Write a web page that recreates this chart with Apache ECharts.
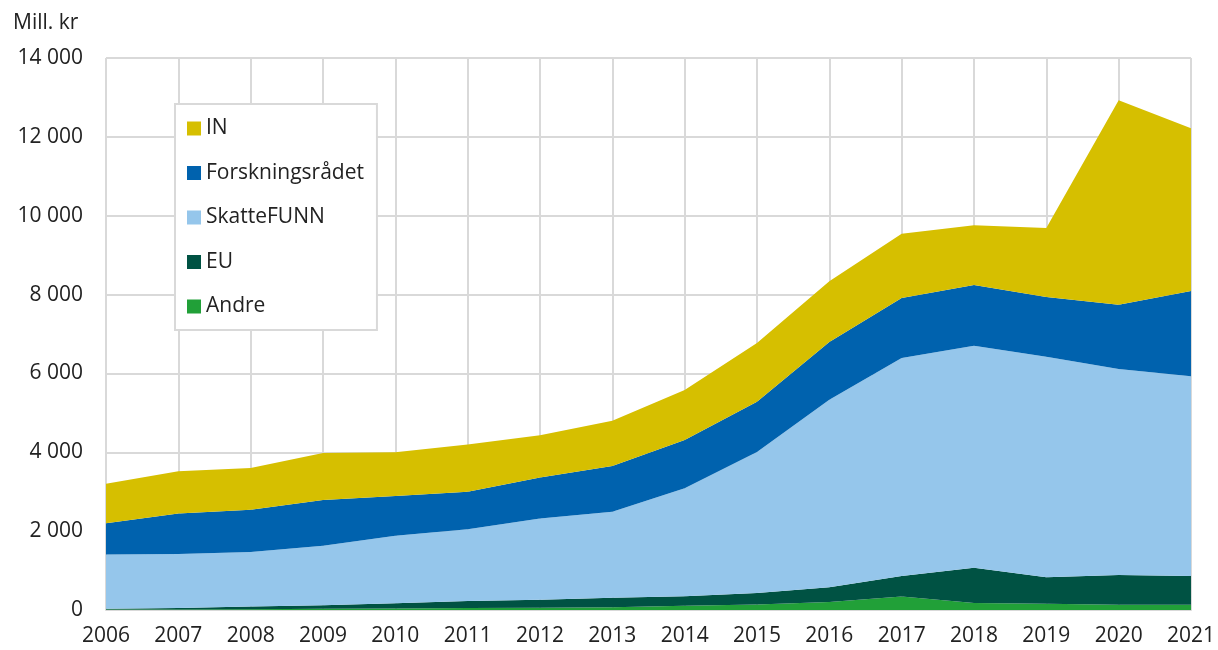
<!DOCTYPE html>
<html>
<head>
<meta charset="utf-8">
<script src="https://cdn.jsdelivr.net/npm/echarts@6/dist/echarts.min.js"></script>
<style>
    html,body{margin:0;padding:0;background:#fff;}
    #main{width:1218px;height:650px;}
</style>
</head>
<body>
<div id="main"></div>
<script>
    //årstall
    var years = ['2006','2007','2008','2009','2010','2011','2012','2013','2014','2015','2016','2017','2018','2019','2020','2021'];
    //mill. kr per kilde
    var andre = [10,10,20,30,40,50,60,70,110,140,200,340,180,160,130,130];
    var eu = [20,40,70,90,130,180,200,240,240,290,380,520,890,670,760,730];
    var skattefunn = [1380,1370,1380,1510,1710,1820,2060,2180,2740,3580,4750,5530,5630,5590,5220,5070];
    var forskningsradet = [790,1030,1070,1160,1010,950,1040,1160,1220,1270,1470,1520,1540,1520,1630,2160];
    var innovasjon = [1000,1070,1060,1190,1110,1200,1070,1150,1270,1490,1540,1630,1520,1750,5190,4130];

    var legendNames = ['IN','Forskningsrådet','SkatteFUNN','EU','Andre'];
    var colors = {IN:'#d6bf00','Forskningsrådet':'#0062ae',SkatteFUNN:'#95c6eb',EU:'#005243',Andre:'#21a038'};

    var fontFam = '"Open Sans", "Noto Sans", sans-serif';

    function fmt(v){
        return String(v).replace(/\B(?=(\d{3})+(?!\d))/g, ' ');
    }

    function areaSerie(name, data){
        return {
            name: name,
            type: 'line',
            stack: 'sum',
            data: data,
            symbol: 'none',
            lineStyle: {width: 0},
            areaStyle: {color: colors[name], opacity: 1},
            itemStyle: {color: colors[name]},
            emphasis: {disabled: true}
        };
    }

    var myChart = echarts.init(document.getElementById('main'));
    var option = {
        animation: false,
        title: {
            text: 'Mill. kr',
            left: 8,
            top: 8,
            textStyle: {fontFamily: fontFam, fontSize: 21, fontWeight: 'normal', color: '#222'}
        },
        legend: {
            data: legendNames,
            orient: 'vertical',
            left: 175,
            top: 104,
            backgroundColor: '#fff',
            borderColor: '#d9d9d9',
            borderWidth: 2,
            padding: [14, 13, 13, 12],
            itemGap: 23.5,
            itemWidth: 14,
            itemHeight: 14,
            icon: 'rect',
            textStyle: {fontFamily: fontFam, fontSize: 21, color: '#222'}
        },
        grid: {left: 106, right: 21, top: 58, bottom: 40},
        xAxis: {
            type: 'category',
            data: years,
            boundaryGap: false,
            axisLine: {lineStyle: {color: '#d9d9d9', width: 2}},
            axisTick: {show: false},
            axisLabel: {fontFamily: fontFam, fontSize: 21, color: '#222', margin: 16, interval: 0},
            splitLine: {show: true, lineStyle: {color: '#d9d9d9', width: 2}}
        },
        yAxis: {
            type: 'value',
            min: 0,
            max: 14000,
            interval: 2000,
            axisLine: {show: false},
            axisTick: {show: false},
            axisLabel: {fontFamily: fontFam, fontSize: 21, color: '#222', margin: 23, formatter: fmt},
            splitLine: {lineStyle: {color: '#d9d9d9', width: 2}}
        },
        series: [
            areaSerie('Andre', andre),
            areaSerie('EU', eu),
            areaSerie('SkatteFUNN', skattefunn),
            areaSerie('Forskningsrådet', forskningsradet),
            areaSerie('IN', innovasjon)
        ]
    };
    myChart.setOption(option);
</script>
</body>
</html>
